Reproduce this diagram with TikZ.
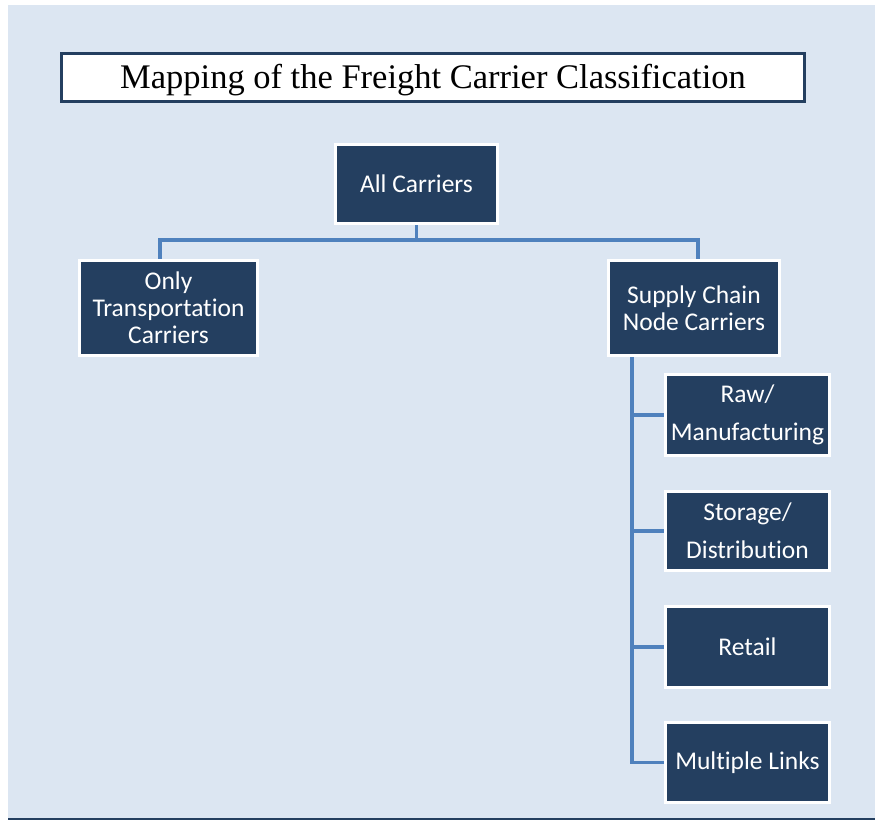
\documentclass[tikz,border=0pt]{standalone}
\usepackage{fontspec}
\setmainfont{Liberation Serif}
\newfontfamily\boxfont[Ligatures=NoCommon]{Carlito}
\definecolor{bgblue}{HTML}{DCE6F2}
\definecolor{navy}{HTML}{243F60}
\definecolor{linkblue}{HTML}{4F81BD}
\tikzset{
  cbox/.style={draw=white, line width=3pt, fill=navy, text=white, align=center,
    font=\boxfont\fontsize{25.5}{27}\selectfont, inner sep=0pt},
  cbox2/.style={cbox, font=\boxfont\fontsize{25.5}{38}\selectfont},
  conn/.style={draw=linkblue, line width=3.2pt},
  titlebox/.style={draw=navy, line width=3pt, fill=white, inner sep=0pt,
    text height=29.5pt, text depth=7.5pt,
    font=\fontsize{34.5}{40}\selectfont}
}
\begin{document}
\begin{tikzpicture}[x=1pt,y=-1pt]
\useasboundingbox (0,0) rectangle (875,820);
\fill[white] (0,0) rectangle (875,820);
\fill[bgblue] (8,5) rectangle (875,818);
\fill[navy] (8,818) rectangle (875,820);

\node[titlebox, minimum width=743pt, minimum height=48pt] (title) at (433,77.5)
  {Mapping of the Freight Carrier Classification};

\node[cbox, minimum width=162pt, minimum height=79pt] (all) at (416.5,184) {All Carriers};
\node[cbox, minimum width=178pt, minimum height=95pt] (only) at (168.5,308)
  {Only\\Transportation\\Carriers};
\node[cbox, minimum width=171pt, minimum height=95pt] (sc) at (694,308)
  {Supply Chain\\Node Carriers};
\node[cbox2, minimum width=164pt, minimum height=81pt] (raw) at (747.5,415)
  {Raw/\\Manufacturing};
\node[cbox2, minimum width=164pt, minimum height=79pt] (sto) at (747.5,531)
  {Storage/\\Distribution};
\node[cbox, minimum width=164pt, minimum height=81pt] (ret) at (747.5,647) {Retail};
\node[cbox, minimum width=164pt, minimum height=80pt] (ml) at (747.5,762.5) {Multiple Links};

\coordinate (bus) at (416.5,240);
\draw[conn] (all.south) -- (bus);
\draw[conn] (bus) -| ([xshift=-8.5pt]only.north);
\draw[conn] (bus) -| ([xshift=4pt]sc.north);

\coordinate (trunk) at ([xshift=25pt]sc.south west);
\draw[conn] (trunk) |- (ml.west);
\draw[conn] (trunk) |- (raw.west);
\draw[conn] (trunk) |- (sto.west);
\draw[conn] (trunk) |- (ret.west);
\end{tikzpicture}
\end{document}
